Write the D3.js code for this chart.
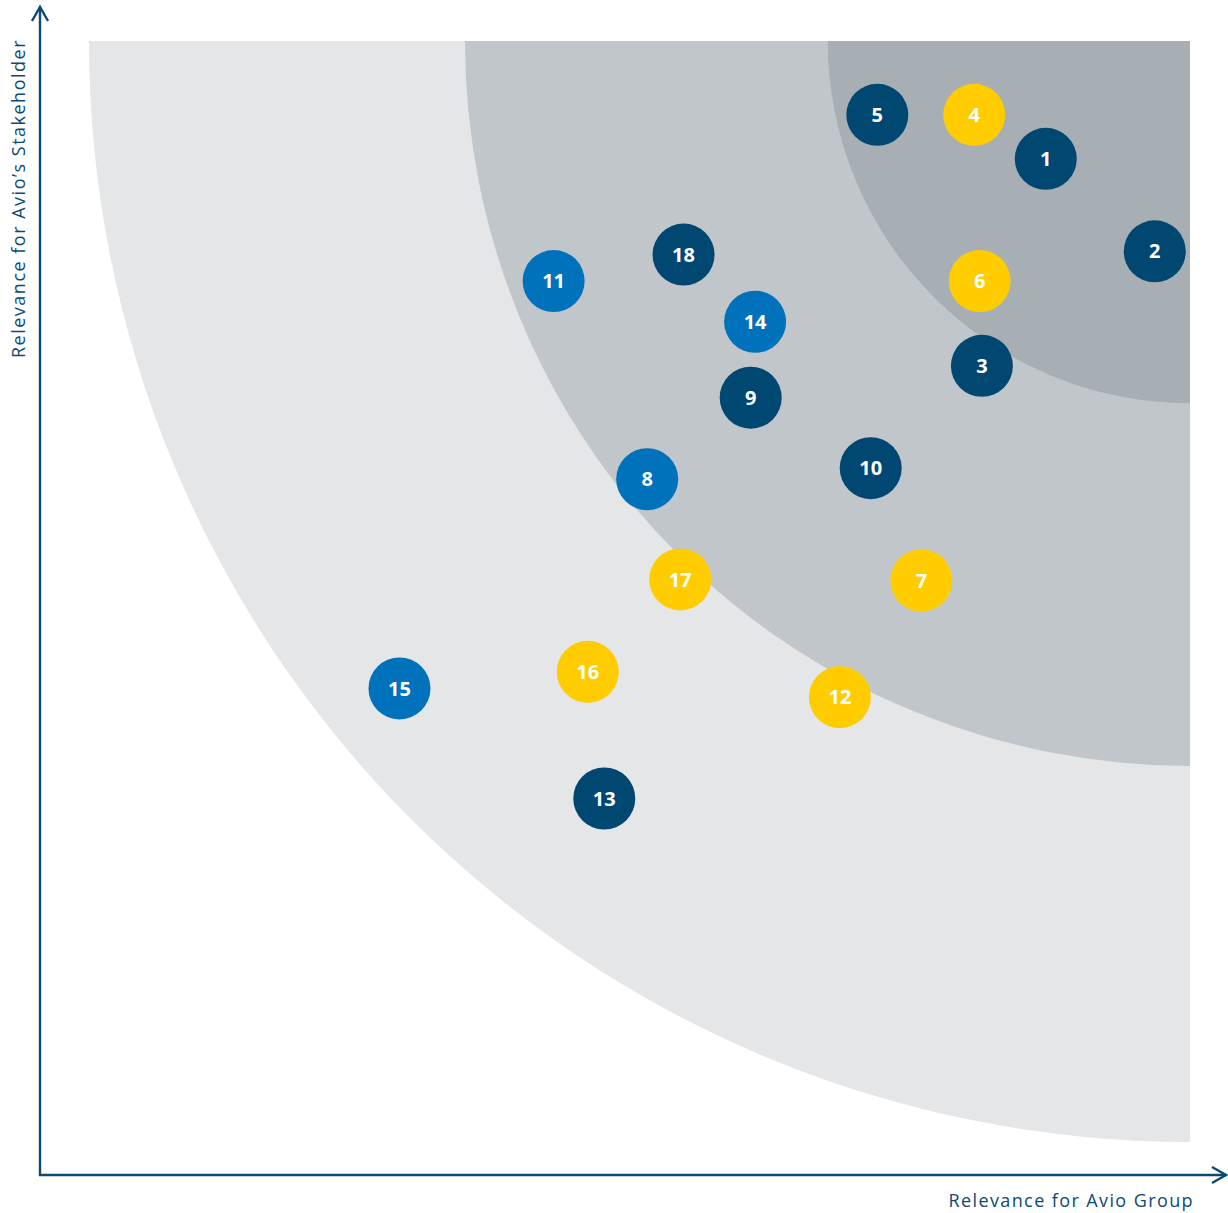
<!DOCTYPE html>
<html>
<head>
<meta charset="utf-8">
<script src="https://cdn.jsdelivr.net/npm/d3@7"></script>
<style>
  body { margin: 0; background: #fff; }
  svg { display: block; font-family: 'Open Sans', sans-serif; }
</style>
</head>
<body>
<svg id="matrix"></svg>
<script>
// Topics, numbered 1..18
const ids = [1, 2, 3, 4, 5, 6, 7, 8, 9, 10, 11, 12, 13, 14, 15, 16, 17, 18];
// Relevance for Avio Group (0-100)
const groupScore = [86.9, 96.8, 81.1, 80.4, 71.6, 80.9, 75.6, 50.7, 60.1, 71.0, 42.2, 68.2, 46.8, 60.5, 28.2, 45.3, 53.7, 54.0];
// Relevance for stakeholders (0-100)
const stakeScore = [89.3, 80.9, 70.5, 93.3, 93.3, 78.2, 51.0, 60.2, 67.6, 61.2, 78.2, 40.4, 31.2, 74.5, 41.2, 42.7, 51.1, 80.6];
// Topic group: 'core', 'env', 'gov'
const kind = ['core', 'core', 'core', 'gov', 'core', 'gov', 'gov', 'env', 'core', 'core', 'env', 'gov', 'core', 'env', 'env', 'gov', 'gov', 'core'];
// Relevance band thresholds (distance from the top-right corner)
const bands = [100, 65.85, 32.9];

const width = 1228;
const height = 1213;
const svg = d3.select('#matrix').attr('width', width).attr('height', height);

const x = d3.scaleLinear().domain([0, 100]).range([89, 1190]);
const y = d3.scaleLinear().domain([0, 100]).range([1142, 41]);
const r = d3.scaleLinear().domain([0, 100]).range([0, 1101]);
const color = d3.scaleOrdinal()
  .domain(['core', 'env', 'gov'])
  .range(['#004872', '#0071bb', '#ffcc00']);
const bandColor = ['#e5e6e8', '#c1c6ca', '#a7aeb4'];

const data = ids.map((id, i) => ({ id, gx: groupScore[i], sy: stakeScore[i], kind: kind[i] }));

// Bands: quarter circles around the top-right corner
svg.append('clipPath').attr('id', 'plot-clip')
  .append('rect')
    .attr('x', x(0)).attr('y', y(100))
    .attr('width', x(100) - x(0)).attr('height', y(0) - y(100));

svg.append('g')
  .attr('clip-path', 'url(#plot-clip)')
  .selectAll('circle')
  .data(bands)
  .enter().append('circle')
    .attr('cx', x(100))
    .attr('cy', y(100))
    .attr('r', d => r(d))
    .attr('fill', (d, i) => bandColor[i]);

// Axes with arrow heads
const axisColor = '#0d4a73';
const axes = svg.append('g')
  .attr('stroke', axisColor)
  .attr('stroke-width', 2.4)
  .attr('fill', 'none');
axes.append('path').attr('d', 'M40,1176 V7');
axes.append('path').attr('d', 'M32,21 L40,7 L48,21');
axes.append('path').attr('d', 'M39,1175 H1226');
axes.append('path').attr('d', 'M1212,1167 L1226,1175 L1212,1183');

svg.append('text')
  .attr('transform', 'translate(25, 358) rotate(-90)')
  .attr('fill', axisColor)
  .attr('font-size', 18)
  .attr('letter-spacing', 1.5)
  .text('Relevance for Avio\u2019s Stakeholder');

svg.append('text')
  .attr('x', 1194)
  .attr('y', 1207)
  .attr('text-anchor', 'end')
  .attr('fill', axisColor)
  .attr('font-size', 18)
  .attr('letter-spacing', 1.4)
  .text('Relevance for Avio Group');

// Topic bubbles
const dots = svg.append('g')
  .selectAll('g')
  .data(data)
  .enter().append('g')
    .attr('transform', d => `translate(${x(d.gx)}, ${y(d.sy)})`);

dots.append('circle')
  .attr('r', 31)
  .attr('fill', d => color(d.kind));

dots.append('text')
  .attr('text-anchor', 'middle')
  .attr('dy', '0.36em')
  .attr('fill', '#fff')
  .attr('font-size', 20)
  .attr('font-weight', 'bold')
  .text(d => d.id);
</script>
</body>
</html>
